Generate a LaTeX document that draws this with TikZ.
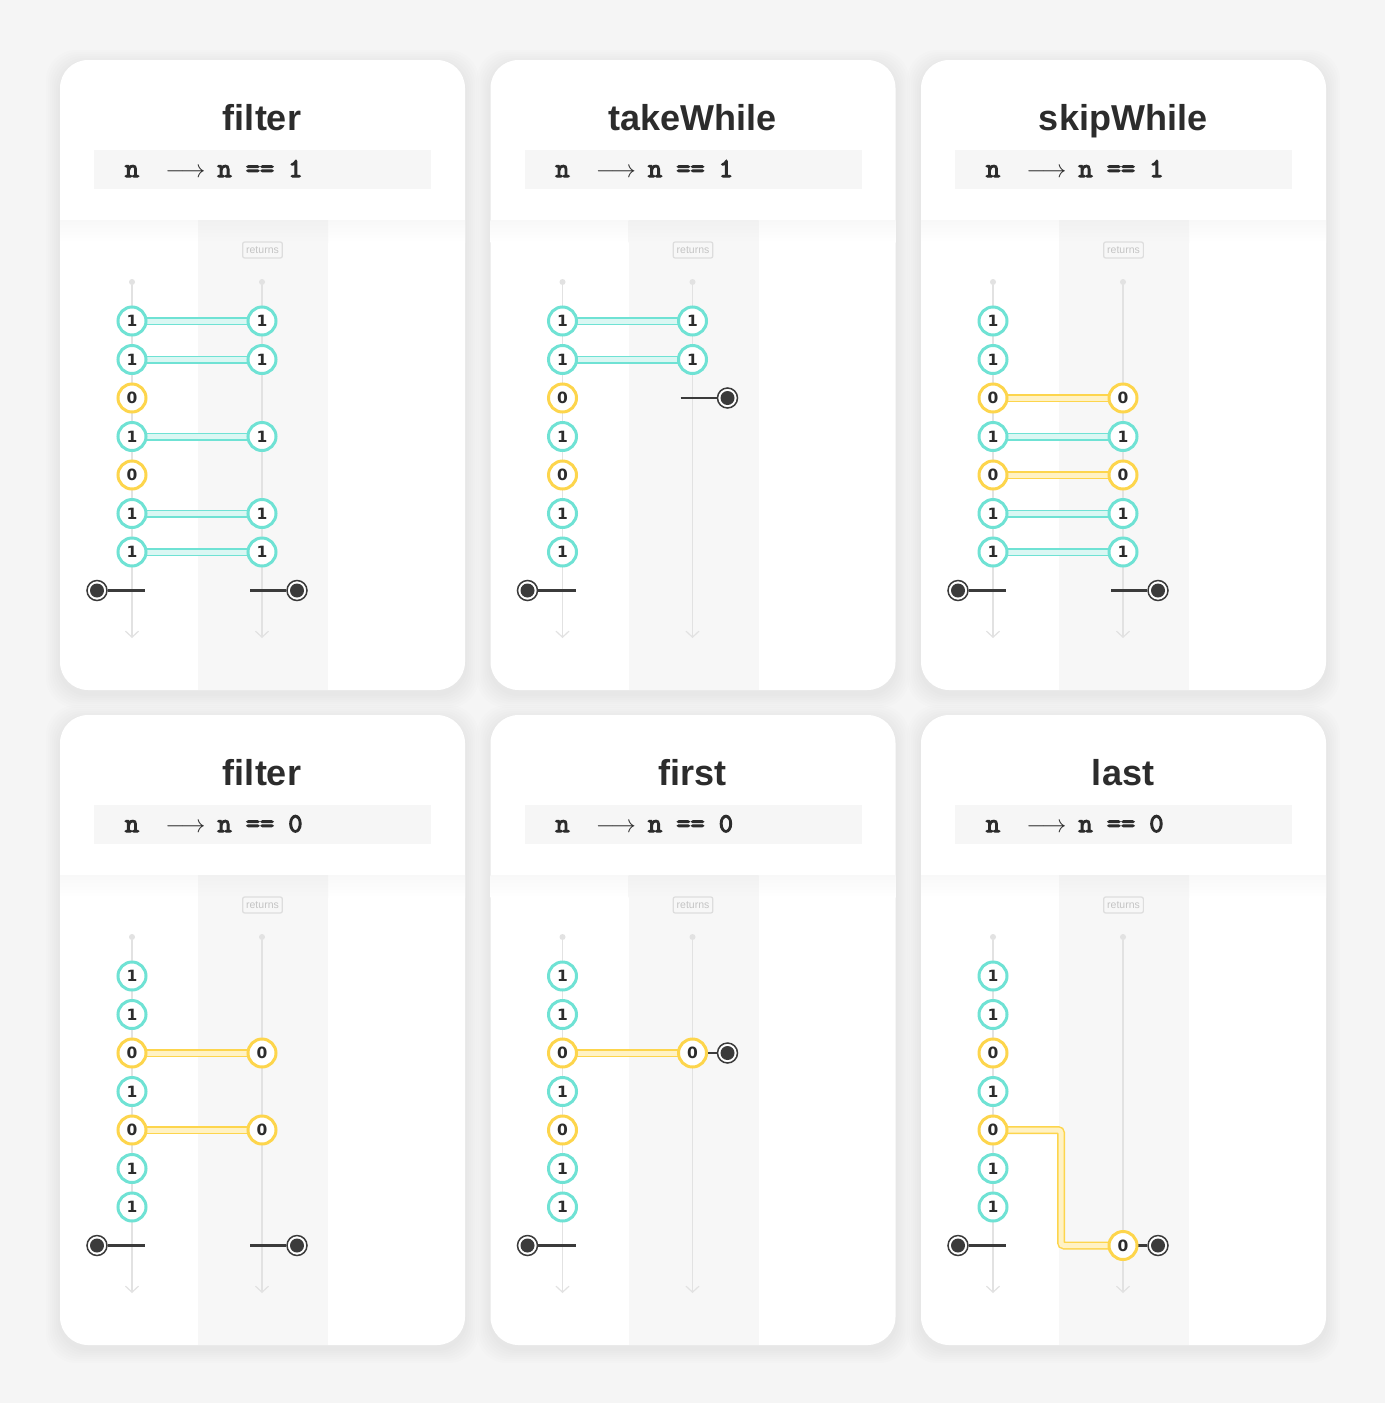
\documentclass[tikz,border=0pt]{standalone}
\usepackage{fontspec}
\setmainfont{Liberation Sans}
\newfontfamily\digitfont{DejaVu Sans}
\newfontfamily\codefont{lmmono10-regular.otf}[BoldFont=lmmono10-regular.otf, BoldFeatures={FakeBold=4}]
\usetikzlibrary{arrows.meta}
\definecolor{bgc}{HTML}{F5F5F5}
\definecolor{colc}{HTML}{F7F7F7}
\definecolor{colshade}{HTML}{F1F1F1}
\definecolor{hdrshade}{HTML}{F8F8F8}
\definecolor{codebg}{HTML}{F6F6F6}
\definecolor{tealc}{HTML}{6FE2D4}
\definecolor{teallt}{HTML}{DAF7F3}
\definecolor{yelc}{HTML}{FDD54C}
\definecolor{yellt}{HTML}{FFF2C4}
\definecolor{darkc}{HTML}{3B3B3B}
\definecolor{axisc}{HTML}{E2E2E2}
\definecolor{titlec}{HTML}{2C2C2C}
\definecolor{retc}{HTML}{DDDDDD}
\definecolor{rettext}{HTML}{C4C4C4}
\pgfdeclarelayer{back}
\pgfdeclarelayer{mid}
\pgfsetlayers{back,mid,main}
\tikzset{
  c1/.style={circle, draw=tealc, line width=3pt, fill=white, minimum size=28pt,
    inner sep=0pt, text=titlec, font=\digitfont\bfseries\fontsize{15.5}{15.5}\selectfont},
  c0/.style={c1, draw=yelc},
  band1/.style={draw=tealc, line width=8pt, shorten <=-3pt, shorten >=-3pt,
    postaction={draw=teallt, line width=5pt}},
  band0/.style={draw=yelc, line width=8pt, shorten <=-3pt, shorten >=-3pt,
    postaction={draw=yellt, line width=5pt}},
  titletxt/.style={anchor=base, text=titlec, font=\fontsize{36}{36}\selectfont\bfseries, inner sep=0pt},
  codetxt/.style={anchor=base, text=titlec, font=\codefont\bfseries\fontsize{27}{27}\selectfont, inner sep=0pt},
  arrtxt/.style={anchor=base, text=titlec, font=\fontsize{23}{23}\selectfont, inner sep=0pt},
  retbox/.style={draw=retc, line width=1.2pt, rounded corners=2pt, text=rettext,
    font=\fontsize{10.5}{10.5}\selectfont, minimum height=16pt, inner xsep=3.5pt, inner ysep=0pt},
  topdot/.style={circle, fill=axisc, minimum size=6pt, inner sep=0pt},
  axisline/.style={draw=axisc, line width=1.2pt, -{Straight Barb[length=6pt,width=13pt]}},
  endmk/.style={circle, draw=darkc, line width=1.5pt, fill=white, minimum size=20pt, inner sep=0pt,
    path picture={\fill[darkc] (path picture bounding box.center) circle (7pt);}},
  endline/.style={draw=darkc, line width=2.5pt},
}
\newcommand\outc[3]{%
  \node[c#3] (#1out#2) at (202,{261+38.5*#2}) {#3};
  \begin{pgfonlayer}{mid}\draw[band#3] (#1in#2) -- (#1out#2);\end{pgfonlayer}}
\newcommand\rend[2]{%
  \node[endmk] (#1re) at (237,{261+38.5*#2}) {};
  \coordinate (#1rec) at (190,{261+38.5*#2});
  \begin{pgfonlayer}{mid}\draw[endline] (#1rec) -- (#1re);\end{pgfonlayer}}
\newcommand\panelframe[6]{%
\begin{scope}[shift={(#2,#3)}]
  \begin{pgfonlayer}{back}
    \foreach \s in {2,4,...,14}{\fill[black,opacity=0.006,rounded corners=30pt] (-\s,{4-\s}) rectangle ({405+\s},{634+\s});}
    \fill[white,rounded corners=28pt] (0,0) rectangle (405,630);
    \shade[top color=hdrshade,bottom color=white] (0,160) rectangle (405,182);
    \fill[colc] (138,160) rectangle (268,630);
    \shade[top color=colshade,bottom color=colc] (138,160) rectangle (268,182);
    \fill[codebg] (34,90) rectangle (371,129);
  \end{pgfonlayer}
  \node[titletxt] (#1title) at (202,70) {#4};
  \node[codetxt] (#1n) at (72,117) {n};
  \node[arrtxt] (#1arr) at (125.5,117) {$\longrightarrow$};
  \node[codetxt] (#1expr) at (200,117) {n == #5};
  \node[retbox] (#1ret) at (202.5,190) {returns};
  \begin{pgfonlayer}{mid}
    \node[topdot] (#1lt) at (72,222) {};
    \node[topdot] (#1rt) at (202,222) {};
    \coordinate (#1lb) at (72,578);
    \coordinate (#1rb) at (202,578);
    \draw[axisline] (#1lt) -- (#1lb);
    \draw[axisline] (#1rt) -- (#1rb);
  \end{pgfonlayer}
  \foreach \v [count=\i from 0] in {1,1,0,1,0,1,1} {\node[c\v] (#1in\i) at (72,{261+38.5*\i}) {\v};}
  \node[endmk] (#1le) at (37,530.5) {};
  \coordinate (#1lec) at (85,530.5);
  \begin{pgfonlayer}{mid}\draw[endline] (#1le) -- (#1lec);\end{pgfonlayer}
  #6
\end{scope}}
\begin{document}
\begin{tikzpicture}[x=1pt,y=-1pt]
\useasboundingbox (0,0) rectangle (1385,1403);
\begin{pgfonlayer}{back}
  \fill[bgc] (0,0) rectangle (1385,1403);
\end{pgfonlayer}
\panelframe{a}{60}{60}{filter}{1}{%
  \foreach \r in {0,1,3,5,6}{\outc{a}{\r}{1}}
  \rend{a}{7}}
\panelframe{b}{490.5}{60}{takeWhile}{1}{%
  \outc{b}{0}{1}\outc{b}{1}{1}
  \rend{b}{2}}
\panelframe{c}{921}{60}{skipWhile}{1}{%
  \outc{c}{2}{0}\outc{c}{3}{1}\outc{c}{4}{0}\outc{c}{5}{1}\outc{c}{6}{1}
  \rend{c}{7}}
\panelframe{d}{60}{715}{filter}{0}{%
  \outc{d}{2}{0}\outc{d}{4}{0}
  \rend{d}{7}}
\panelframe{e}{490.5}{715}{first}{0}{%
  \outc{e}{2}{0}
  \rend{e}{2}}
\panelframe{f}{921}{715}{last}{0}{%
  \node[c0] (fout7) at (202,{261+38.5*7}) {0};
  \coordinate (fk) at (140,0);
  \begin{pgfonlayer}{mid}
    \draw[band0, rounded corners=3pt] (fin4) -- (fin4 -| fk) -- (fk |- fout7) -- (fout7);
  \end{pgfonlayer}
  \rend{f}{7}}
\end{tikzpicture}
\end{document}
